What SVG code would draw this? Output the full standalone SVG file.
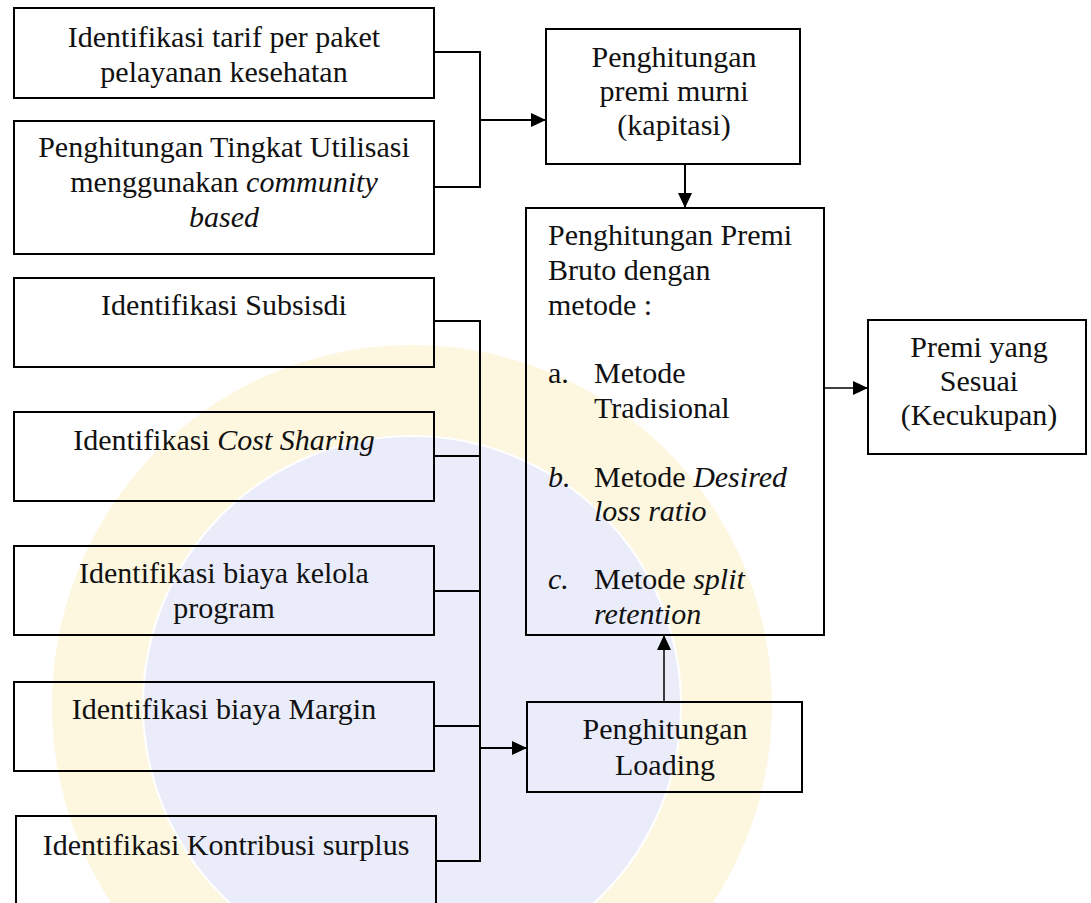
<svg xmlns="http://www.w3.org/2000/svg" width="1091" height="903" viewBox="0 0 1091 903">
<defs>
<style>
.box{fill:none;stroke:#000;stroke-width:2}
.ln{fill:none;stroke:#000;stroke-width:2}
.thin{fill:none;stroke:#000;stroke-width:1.5}
text{font-family:"Liberation Serif","Times New Roman",serif;font-size:30px;fill:#111}
.c{text-anchor:middle}
.i{font-style:italic}
</style>
<marker id="ah" markerUnits="userSpaceOnUse" markerWidth="16" markerHeight="14" refX="15" refY="7" orient="auto">
<path d="M0,0 L15,7 L0,14 z" fill="#000"/>
</marker>
</defs>
<rect width="1091" height="903" fill="#fff"/>
<g id="watermark" opacity="0.55">
<circle cx="412" cy="705" r="315" fill="none" stroke="#fcf1c8" stroke-width="90"/>
<circle cx="412" cy="705" r="268" fill="#d9ddf7"/>
</g>
<g id="connectors">
<polyline class="ln" points="434,52 480,52 480,187 434,187"/>
<line class="ln" x1="480" y1="120" x2="546" y2="120" marker-end="url(#ah)"/>
<line class="ln" x1="685" y1="164" x2="685" y2="208" marker-end="url(#ah)"/>
<line class="thin" x1="824" y1="388" x2="868" y2="388" marker-end="url(#ah)"/>
<polyline class="ln" points="434,321 480,321 480,861 436,861"/>
<line class="ln" x1="434" y1="456" x2="480" y2="456"/>
<line class="ln" x1="434" y1="591" x2="480" y2="591"/>
<line class="ln" x1="434" y1="726" x2="480" y2="726"/>
<line class="ln" x1="480" y1="748" x2="527" y2="748" marker-end="url(#ah)"/>
<line class="thin" x1="664" y1="702" x2="664" y2="635" marker-end="url(#ah)"/>
</g>
<g id="n-tarif">
<rect class="box" x="14" y="8" width="420" height="90"/>
<text class="c" x="224" y="47">Identifikasi tarif  per paket</text>
<text class="c" x="224" y="82">pelayanan kesehatan</text>
</g>
<g id="n-utilisasi">
<rect class="box" x="14" y="121" width="420" height="133"/>
<text class="c" x="224" y="157">Penghitungan Tingkat Utilisasi</text>
<text class="c" x="224" y="192">menggunakan <tspan class="i">community</tspan></text>
<text class="c i" x="224" y="227">based</text>
</g>
<g id="n-murni">
<rect class="box" x="546" y="29" width="254" height="135"/>
<text class="c" x="674" y="67">Penghitungan</text>
<text class="c" x="674" y="101">premi murni</text>
<text class="c" x="674" y="135">(kapitasi)</text>
</g>
<g id="n-bruto">
<rect class="box" x="526" y="208" width="298" height="427"/>
<text x="548" y="245">Penghitungan Premi</text>
<text x="548" y="280">Bruto dengan</text>
<text x="548" y="315">metode :</text>
<text x="548" y="383">a.</text>
<text x="594" y="383">Metode</text>
<text x="594" y="418">Tradisional</text>
<text class="i" x="548" y="487">b.</text>
<text x="594" y="487">Metode <tspan class="i">Desired</tspan></text>
<text class="i" x="594" y="521">loss ratio</text>
<text class="i" x="548" y="589">c.</text>
<text x="594" y="589">Metode <tspan class="i">split</tspan></text>
<text class="i" x="594" y="624">retention</text>
</g>
<g id="n-sesuai">
<rect class="box" x="868" y="320" width="218" height="134"/>
<text class="c" x="979" y="357">Premi yang</text>
<text class="c" x="979" y="391">Sesuai</text>
<text class="c" x="979" y="425">(Kecukupan)</text>
</g>
<g id="n-subsidi">
<rect class="box" x="14" y="278" width="420" height="89"/>
<text class="c" x="224" y="315">Identifikasi Subsisdi</text>
</g>
<g id="n-costsharing">
<rect class="box" x="14" y="412" width="420" height="89"/>
<text class="c" x="224" y="450">Identifikasi <tspan class="i">Cost Sharing</tspan></text>
</g>
<g id="n-kelola">
<rect class="box" x="14" y="546" width="420" height="89"/>
<text class="c" x="224" y="583">Identifikasi biaya kelola</text>
<text class="c" x="224" y="618">program</text>
</g>
<g id="n-margin">
<rect class="box" x="14" y="682" width="420" height="89"/>
<text class="c" x="224" y="719">Identifikasi biaya Margin</text>
</g>
<g id="n-kontribusi">
<rect class="box" x="16" y="816" width="420" height="100"/>
<text class="c" x="226" y="855">Identifikasi Kontribusi surplus</text>
</g>
<g id="n-loading">
<rect class="box" x="527" y="702" width="275" height="90"/>
<text class="c" x="665" y="739">Penghitungan</text>
<text class="c" x="665" y="775">Loading</text>
</g>
</svg>
